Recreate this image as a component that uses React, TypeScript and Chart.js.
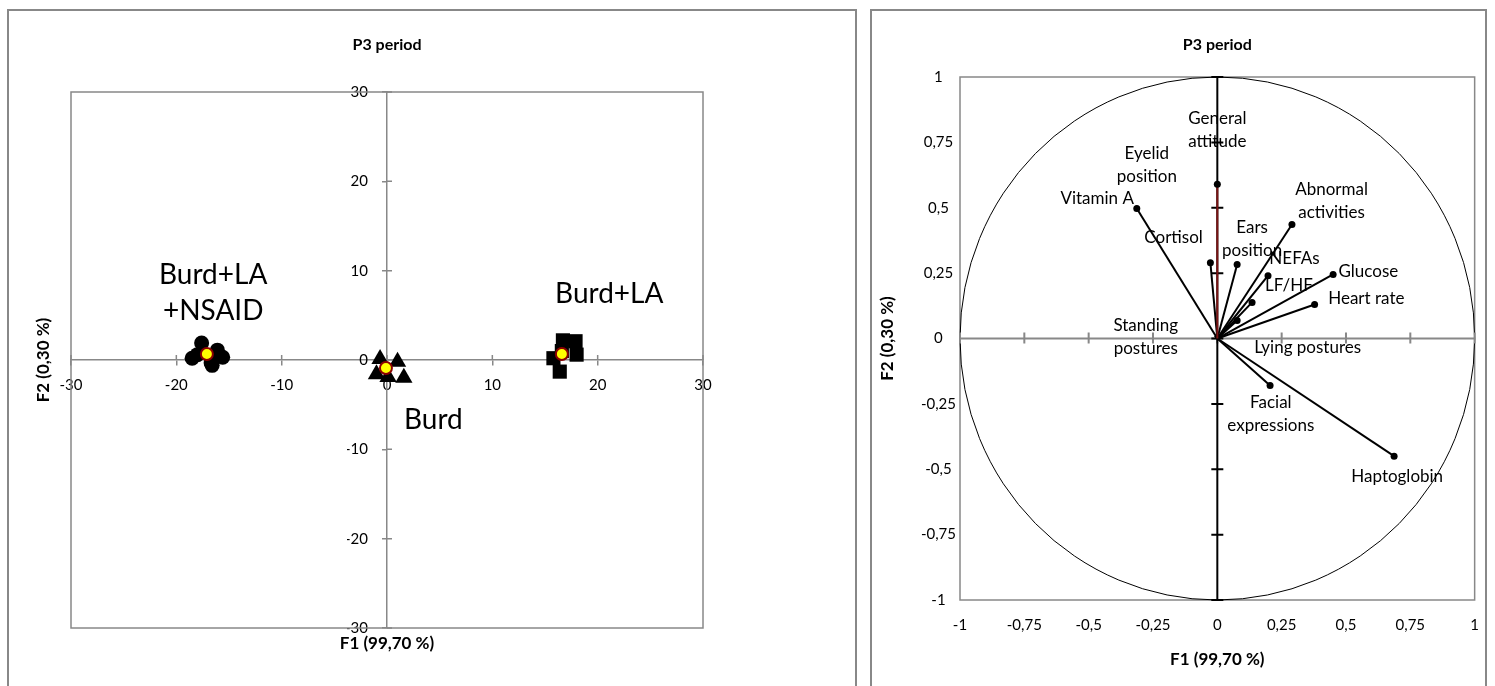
import React, { useEffect, useRef } from "react";
import { Chart, registerables } from "chart.js";

Chart.register(...registerables);

// ---------- Left panel data (observations) ----------
const nsaidX = [-18.5, -17.6, -16.1, -15.6, -16.7, -16.6, -18.0];
const nsaidY = [0.2, 1.9, 1.1, 0.3, -0.3, -0.6, 0.6];
const burdX = [-0.66, 1.0, -1.0, 1.6, 0.1];
const burdY = [0.1, -0.2, -1.6, -2.0, -1.9];
const burdLaX = [16.7, 17.9, 15.8, 18.0, 16.4, 16.6];
const burdLaY = [2.2, 2.1, 0.2, 0.6, -1.3, 1.0];
const centroidX = [-17.1, -0.1, 16.6];
const centroidY = [0.67, -0.9, 0.67];
const groupNames = [["Burd+LA", "+NSAID"], ["Burd+LA"], ["Burd"]];
const groupLabelX = [-16.5, 21.1, 4.4];
const groupLabelY = [7.5, 7.4, -6.7];
const leftTicks = [-30, -20, -10, 0, 10, 20, 30];

// ---------- Right panel data (variables) ----------
const varNames = [
  ["General", "attitude"],
  ["Eyelid", "position"],
  ["Vitamin A"],
  ["Abnormal", "activities"],
  ["Cortisol"],
  ["Ears", "position"],
  ["NEFAs"],
  ["Glucose"],
  ["LF/HF"],
  ["Heart rate"],
  ["Standing", "postures"],
  ["Lying postures"],
  ["Facial", "expressions"],
  ["Haptoglobin"],
];
const varF1 = [0.0, 0.0, -0.313, 0.29, -0.027, 0.077, 0.197, 0.45, 0.135, 0.378, -0.01, 0.077, 0.205, 0.687];
const varF2 = [0.0, 0.59, 0.497, 0.436, 0.29, 0.283, 0.24, 0.245, 0.138, 0.13, 0.01, 0.069, -0.18, -0.45];
const varShown = [false, true, true, true, true, true, true, true, true, true, false, true, true, true];
const labelF1 = [0.0, -0.274, -0.467, 0.444, -0.17, 0.135, 0.30, 0.587, 0.278, 0.579, -0.278, 0.351, 0.208, 0.699];
const labelF2 = [0.797, 0.663, 0.535, 0.524, 0.386, 0.38, 0.306, 0.256, 0.203, 0.153, 0.004, -0.034, -0.289, -0.528];
const rightTicks = [-1, -0.75, -0.5, -0.25, 0, 0.25, 0.5, 0.75, 1];

const FONT = "Lato, 'Open Sans', sans-serif";
const GRAY = "#888888";

const fmt = (v: number) => String(v).replace(".", ",");

function LeftChart() {
  const ref = useRef<HTMLCanvasElement>(null);
  useEffect(() => {
    const canvas = ref.current!;
    const deco = {
      id: "leftDeco",
      afterLayout(chart: any) {
        // move the y axis so that it runs through x = 0
        const sy = chart.scales.y;
        const x0 = chart.scales.x.getPixelForValue(0);
        sy.left = x0 - 40;
        sy.right = x0;
        sy.width = 40;
      },
      beforeDatasetsDraw(chart: any) {
        const { ctx, chartArea: a, scales } = chart;
        ctx.save();
        ctx.strokeStyle = GRAY;
        ctx.lineWidth = 1.5;
        ctx.strokeRect(a.left, a.top, a.right - a.left, a.bottom - a.top);
        const x0 = scales.x.getPixelForValue(0);
        const y0 = scales.y.getPixelForValue(0);
        ctx.beginPath();
        leftTicks.forEach((t) => {
          const px = scales.x.getPixelForValue(t);
          ctx.moveTo(px, y0 - 5);
          ctx.lineTo(px, y0);
          const py = scales.y.getPixelForValue(t);
          ctx.moveTo(x0, py);
          ctx.lineTo(x0 + 5, py);
        });
        ctx.stroke();
        ctx.restore();
      },
      afterDraw(chart: any) {
        const { ctx, chartArea: a, scales } = chart;
        ctx.save();
        ctx.fillStyle = "#000";
        ctx.textAlign = "center";
        ctx.textBaseline = "middle";
        ctx.font = `bold 16px ${FONT}`;
        ctx.fillText("P3 period", (a.left + a.right) / 2, 45);
        ctx.font = `bold 17px ${FONT}`;
        ctx.fillText("F1 (99,70 %)", (a.left + a.right) / 2, a.bottom + 16);
        ctx.save();
        ctx.translate(a.left - 27, (a.top + a.bottom) / 2);
        ctx.rotate(-Math.PI / 2);
        ctx.fillText("F2 (0,30 %)", 0, 0);
        ctx.restore();
        ctx.font = `28px ${FONT}`;
        groupNames.forEach((lines, i) => {
          const cx = scales.x.getPixelForValue(groupLabelX[i]);
          const cy = scales.y.getPixelForValue(groupLabelY[i]);
          const lh = 36;
          lines.forEach((l, j) => {
            ctx.fillText(l, cx, cy + (j - (lines.length - 1) / 2) * lh);
          });
        });
        ctx.restore();
      },
    };
    const chart = new Chart(canvas, {
      type: "scatter",
      data: {
        datasets: [
          {
            label: "Centroids",
            data: centroidX.map((x, i) => ({ x, y: centroidY[i] })),
            pointStyle: "circle",
            pointRadius: 6,
            backgroundColor: "#FFFF00",
            borderColor: "#8B0000",
            borderWidth: 2,
          },
          {
            label: "Burd+LA+NSAID",
            data: nsaidX.map((x, i) => ({ x, y: nsaidY[i] })),
            pointStyle: "circle",
            pointRadius: 7.5,
            backgroundColor: "#000",
            borderColor: "#000",
            borderWidth: 0,
          },
          {
            label: "Burd",
            data: burdX.map((x, i) => ({ x, y: burdY[i] })),
            pointStyle: "triangle",
            pointRadius: 10,
            backgroundColor: "#000",
            borderColor: "#000",
            borderWidth: 0,
          },
          {
            label: "Burd+LA",
            data: burdLaX.map((x, i) => ({ x, y: burdLaY[i] })),
            pointStyle: "rect",
            pointRadius: 10,
            backgroundColor: "#000",
            borderColor: "#000",
            borderWidth: 0,
          },
        ],
      },
      options: {
        responsive: false,
        animation: false,
        layout: { padding: { left: 71, top: 92, right: 163, bottom: 58 } },
        plugins: { legend: { display: false }, tooltip: { enabled: false }, title: { display: false } },
        scales: {
          x: {
            type: "linear",
            position: { y: 0 } as any,
            min: -30,
            max: 30,
            afterBuildTicks: (s: any) => {
              s.ticks = leftTicks.map((v) => ({ value: v }));
            },
            ticks: { color: "#000", font: { family: FONT, size: 15 }, padding: 11, maxRotation: 0, autoSkip: false, callback: (v: any) => fmt(v) },
            grid: { display: true, drawOnChartArea: false, drawTicks: true, tickLength: 5, color: GRAY, lineWidth: 1.5 },
            border: { display: true, color: GRAY, width: 1.5 },
          },
          y: {
            type: "linear",
            position: "left",
            min: -30,
            max: 30,
            afterFit: (s: any) => {
              s.width = 0;
            },
            afterBuildTicks: (s: any) => {
              s.ticks = leftTicks.map((v) => ({ value: v }));
            },
            ticks: { color: "#000", font: { family: FONT, size: 15 }, padding: 14, autoSkip: false, callback: (v: any) => fmt(v) },
            grid: { display: true, drawOnChartArea: false, drawTicks: true, tickLength: 5, color: GRAY, lineWidth: 1.5 },
            border: { display: true, color: GRAY, width: 1.5 },
          },
        },
      },
      plugins: [deco],
    } as any);
    return () => chart.destroy();
  }, []);
  return <canvas ref={ref} width={866} height={686} style={{ position: "absolute", left: 0, top: 0, width: 866, height: 686 }} />;
}

function RightChart() {
  const ref = useRef<HTMLCanvasElement>(null);
  useEffect(() => {
    const canvas = ref.current!;
    const deco = {
      id: "rightDeco",
      beforeDatasetsDraw(chart: any) {
        const { ctx, chartArea: a, scales } = chart;
        const sx = scales.x, sy = scales.y;
        ctx.save();
        ctx.strokeStyle = GRAY;
        ctx.lineWidth = 1.5;
        ctx.strokeRect(a.left, a.top, a.right - a.left, a.bottom - a.top);
        const cx = sx.getPixelForValue(0), cy = sy.getPixelForValue(0);
        const rx = sx.getPixelForValue(1) - cx, ry = cy - sy.getPixelForValue(1);
        ctx.strokeStyle = "#000";
        ctx.lineWidth = 1;
        ctx.beginPath();
        ctx.ellipse(cx, cy, rx, ry, 0, 0, Math.PI * 2);
        ctx.stroke();
        ctx.strokeStyle = GRAY;
        ctx.lineWidth = 2;
        ctx.beginPath();
        ctx.moveTo(a.left, cy);
        ctx.lineTo(a.right, cy);
        rightTicks.forEach((t) => {
          const px = sx.getPixelForValue(t);
          ctx.moveTo(px, cy - 6);
          ctx.lineTo(px, cy + 5);
        });
        ctx.stroke();
        ctx.strokeStyle = "#000";
        ctx.lineWidth = 2;
        ctx.beginPath();
        ctx.moveTo(cx, a.top);
        ctx.lineTo(cx, a.bottom);
        rightTicks.forEach((t) => {
          const py = sy.getPixelForValue(t);
          ctx.moveTo(cx - 6, py);
          ctx.lineTo(cx + 6, py);
        });
        ctx.stroke();
        ctx.restore();
      },
      afterDraw(chart: any) {
        const { ctx, chartArea: a, scales } = chart;
        ctx.save();
        ctx.fillStyle = "#000";
        ctx.textAlign = "center";
        ctx.textBaseline = "middle";
        ctx.font = `bold 16px ${FONT}`;
        ctx.fillText("P3 period", (a.left + a.right) / 2, 45);
        ctx.font = `bold 17px ${FONT}`;
        ctx.fillText("F1 (99,70 %)", (a.left + a.right) / 2, a.bottom + 60);
        ctx.save();
        ctx.translate(a.left - 72, (a.top + a.bottom) / 2);
        ctx.rotate(-Math.PI / 2);
        ctx.fillText("F2 (0,30 %)", 0, 0);
        ctx.restore();
        ctx.font = `17px ${FONT}`;
        varNames.forEach((lines, i) => {
          const px = scales.x.getPixelForValue(labelF1[i]);
          const py = scales.y.getPixelForValue(labelF2[i]);
          const lh = 23;
          lines.forEach((l, j) => {
            ctx.fillText(l, px, py + (j - (lines.length - 1) / 2) * lh);
          });
        });
        ctx.restore();
      },
    };
    const datasets = varNames.map((n, i) => ({
      label: n.join(" "),
      data: [
        { x: 0, y: 0 },
        { x: varF1[i], y: varF2[i] },
      ],
      showLine: true,
      borderColor: i === 1 ? "#7A1414" : "#000",
      backgroundColor: "#000",
      borderWidth: 2,
      pointRadius: [0, varShown[i] ? 3.5 : 0],
      pointBorderWidth: 0,
      order: i === 1 ? 0 : 1,
    }));
    const chart = new Chart(canvas, {
      type: "scatter",
      data: { datasets },
      options: {
        responsive: false,
        animation: false,
        layout: { padding: { left: 54, top: 77, right: 17, bottom: 46 } },
        plugins: { legend: { display: false }, tooltip: { enabled: false }, title: { display: false } },
        scales: {
          x: {
            type: "linear",
            position: "bottom",
            min: -1,
            max: 1,
            afterFit: (s: any) => {
              s.height = 40;
            },
            afterBuildTicks: (s: any) => {
              s.ticks = rightTicks.map((v) => ({ value: v }));
            },
            ticks: { color: "#000", font: { family: FONT, size: 15 }, padding: 16, maxRotation: 0, autoSkip: false, callback: (v: any) => fmt(v) },
            grid: { display: false, drawTicks: false },
            border: { display: false },
          },
          y: {
            type: "linear",
            position: "left",
            min: -1,
            max: 1,
            afterFit: (s: any) => {
              s.width = 40;
            },
            afterBuildTicks: (s: any) => {
              s.ticks = rightTicks.map((v) => ({ value: v }));
            },
            ticks: { color: "#000", font: { family: FONT, size: 15 }, padding: 4, crossAlign: "center", autoSkip: false, callback: (v: any) => fmt(v) },
            grid: { display: false, drawTicks: false },
            border: { display: false },
          },
        },
      },
      plugins: [deco],
    } as any);
    return () => chart.destroy();
  }, []);
  return <canvas ref={ref} width={629} height={686} style={{ position: "absolute", left: 866, top: 0, width: 629, height: 686 }} />;
}

export default function App() {
  return (
    <div style={{ position: "fixed", left: 0, top: 0, width: 1495, height: 686, overflow: "hidden", background: "#fff" }}>
      <div style={{ position: "absolute", left: 7, top: 9, width: 850, height: 700, border: `2px solid ${GRAY}`, boxSizing: "border-box" }} />
      <div style={{ position: "absolute", left: 870, top: 9, width: 617, height: 700, border: `2px solid ${GRAY}`, boxSizing: "border-box" }} />
      <LeftChart />
      <RightChart />
    </div>
  );
}
